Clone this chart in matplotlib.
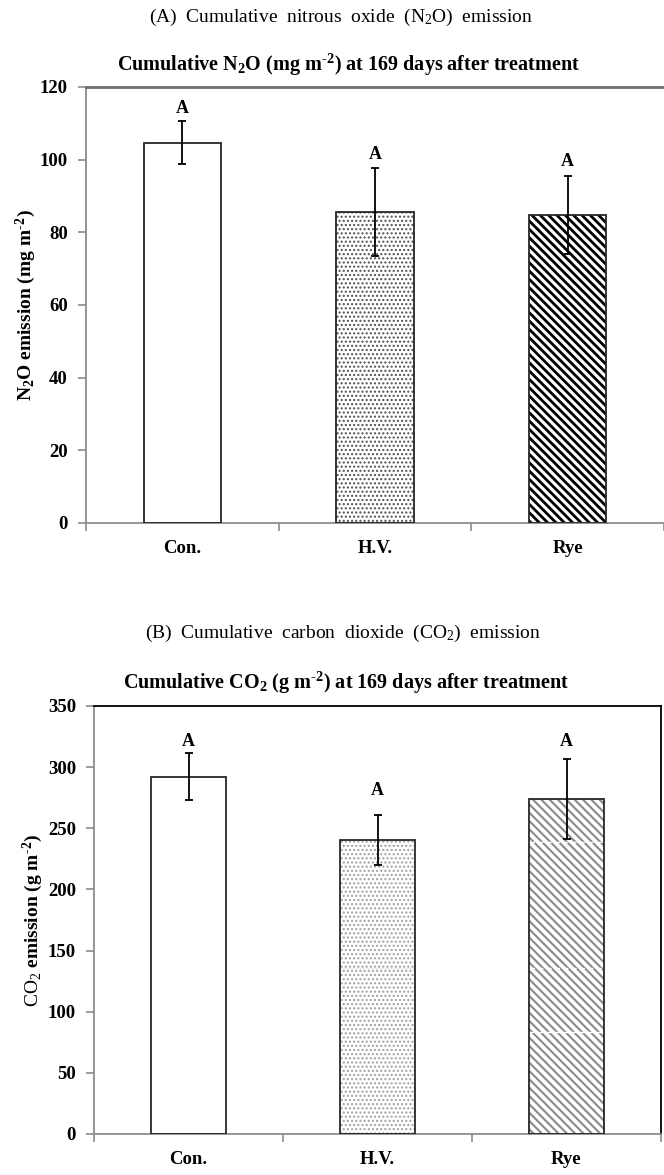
import matplotlib
matplotlib.use("Agg")
import matplotlib.pyplot as plt

plt.rcParams["font.family"] = "Liberation Serif"
plt.rcParams["mathtext.fontset"] = "custom"
plt.rcParams["mathtext.rm"] = "Liberation Serif"
plt.rcParams["mathtext.bf"] = "Liberation Serif:bold"
plt.rcParams["mathtext.default"] = "regular"

# treatments
cats = ["Con.", "H.V.", "Rye"]
letters = ["A", "A", "A"]

# cumulative N2O (mg m-2), 169 days after treatment
n2o_mean = [104.7, 85.5, 84.8]
n2o_err = [5.9, 12.1, 10.7]
n2o_letter_y = [114.0, 101.3, 99.4]

# cumulative CO2 (g m-2), 169 days after treatment
co2_mean = [292.2, 240.4, 273.9]
co2_err = [19.1, 20.7, 32.7]
co2_letter_y = [320.6, 280.5, 320.6]

# faint dashed streaks across the CO2 bars
co2_streaks_rye = [239, 136, 83]
co2_streaks_hv = [136]

AXIS_GRAY = "#8c8c8c"
BAR_EDGE = "#262626"


def draw_panel(ax, means, errs, letter_y, ymax, ystep, ylabel, fills, boxed, labelpad):
    x = range(len(cats))
    # hatched fill layer (hatch colour follows the edge colour)
    fill_bars = ax.bar(x, means, width=0.4, color="white", linewidth=0, zorder=2)
    for patch, (hatch, hcolor, hlw) in zip(fill_bars.patches, fills):
        if hatch:
            patch.set_hatch(hatch)
            patch.set_edgecolor(hcolor)
            if hasattr(patch, "set_hatch_linewidth"):
                patch.set_hatch_linewidth(hlw)
    # outline layer
    outline = ax.bar(x, means, width=0.4, fill=False, edgecolor=BAR_EDGE,
                     linewidth=1.3, zorder=3)
    ax.errorbar(x, means, yerr=errs, fmt="none", ecolor="black", elinewidth=1.3,
                capsize=3, capthick=1.3, zorder=4)
    for xi, ly, s in zip(x, letter_y, letters):
        ax.text(xi, ly, s, ha="center", va="center", fontsize=13, fontweight="bold")

    ax.set_xlim(-0.5, len(cats) - 0.5)
    ax.set_ylim(0, ymax)
    ax.set_yticks(range(0, ymax + 1, ystep))
    ax.set_xticks(list(x))
    ax.set_xticklabels(cats, fontsize=13.5, fontweight="bold")
    ax.set_xticks([i - 0.5 for i in range(len(cats) + 1)], minor=True)
    ax.tick_params(axis="x", which="major", length=0, pad=12)
    ax.tick_params(axis="x", which="minor", length=6, color=AXIS_GRAY, width=1.2)
    ax.tick_params(axis="y", length=6, color=AXIS_GRAY, width=1.2, pad=7,
                   labelsize=13.5)
    for lab in ax.get_yticklabels():
        lab.set_fontweight("bold")
    ax.set_ylabel(ylabel, fontsize=14, fontweight="bold", labelpad=labelpad)

    ax.spines["left"].set_color(AXIS_GRAY)
    ax.spines["bottom"].set_color(AXIS_GRAY)
    ax.spines["left"].set_linewidth(1.3)
    ax.spines["bottom"].set_linewidth(1.3)
    if boxed:
        ax.spines["top"].set_color("black")
        ax.spines["right"].set_color("black")
        ax.spines["top"].set_linewidth(1.3)
        ax.spines["right"].set_linewidth(1.3)
    else:
        ax.spines["top"].set_color("#6e6e6e")
        ax.spines["top"].set_linewidth(2.0)
        ax.spines["right"].set_visible(False)
    return outline


fig = plt.figure(figsize=(6.64, 11.75), dpi=100)

ax1 = fig.add_axes([0.1295, 0.5549, 0.8705, 0.3711])
draw_panel(ax1, n2o_mean, n2o_err, n2o_letter_y, 120, 20,
           "N$_2$O emission (mg m$^{\u2010}$$^{2}$)",
           [(None, None, 1.0), ("....", "#505050", 1.0), ("\\\\\\\\", "black", 2.0)],
           boxed=False, labelpad=1)

ax2 = fig.add_axes([0.1416, 0.0349, 0.8539, 0.3643])
bars2 = draw_panel(ax2, co2_mean, co2_err, co2_letter_y, 350, 50,
                   "$\\mathrm{CO_2}$ emission (g m$^{\u2010}$$^{2}$)",
                   [(None, None, 1.0), ("....", "#a0a0a0", 1.0), ("\\\\\\\\", "#8a8a8a", 1.5)],
                   boxed=True, labelpad=2)

hv, rye = bars2.patches[1], bars2.patches[2]
ax2.hlines(co2_streaks_rye, rye.get_x(), rye.get_x() + rye.get_width(),
           colors="white", linestyles=(0, (4, 2)), linewidth=1.0, zorder=2.5)
ax2.hlines(co2_streaks_hv, hv.get_x(), hv.get_x() + hv.get_width(),
           colors="#e0e0e0", linestyles=(0, (1, 1)), linewidth=1.0, zorder=2.5)

fig.text(0.513, 0.9855, "(A)  Cumulative  nitrous  oxide  (N$_2$O)  emission",
         ha="center", va="center", fontsize=14)
fig.text(0.525, 0.945, "Cumulative N$_2$O (mg m$^{\u2010}$$^{2}$) at 169 days after treatment",
         ha="center", va="center", fontsize=14.5, fontweight="bold")
fig.text(0.517, 0.4613, "(B)  Cumulative  carbon  dioxide  (CO$_2$)  emission",
         ha="center", va="center", fontsize=14)
fig.text(0.522, 0.4187, "Cumulative CO$_2$ (g m$^{\u2010}$$^{2}$) at 169 days after treatment",
         ha="center", va="center", fontsize=14.5, fontweight="bold")

fig.savefig("out.png", dpi=100)
